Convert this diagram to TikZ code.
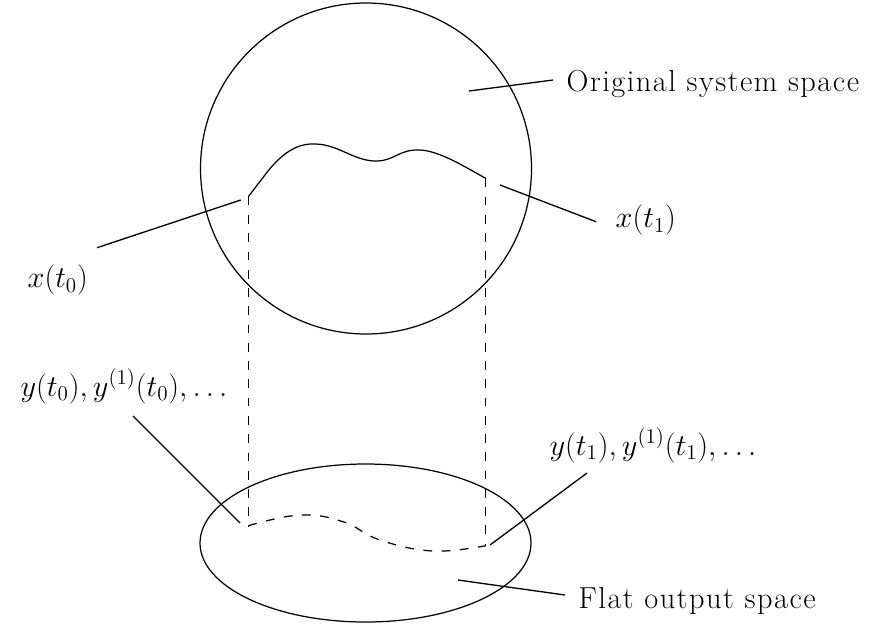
\documentclass[tikz,border=0pt]{standalone}
\usepackage{fontspec}
\newfontfamily\spacedfont{Latin Modern Roman}[LetterSpace=5]
\begin{document}
\begin{tikzpicture}[x=0.02cm, y=-0.02cm, line width=0.7pt]

% Styles for labels and lines
\tikzstyle{label} = [anchor=base west, inner sep=0pt, font=\LARGE]
\tikzstyle{textlabel} = [label, font=\LARGE\spacedfont]
\tikzstyle{leader} = [line width=0.75pt]
\tikzstyle{proj} = [dash pattern=on 5pt off 5.4pt]

\useasboundingbox (0,0) rectangle (878,630);

% The two spaces
\draw (366,168.5) circle [radius=165.5];
\draw (365.5,543) ellipse [x radius=165.5, y radius=79];

% End points of the trajectories
\coordinate (xa) at (248.3,196.7);
\coordinate (xb) at (485.7,178.3);
\coordinate (ya) at (248.3,525.7);
\coordinate (yb) at (485.7,545.7);

% Trajectory in the original space
\draw (xa) -- (268,171) .. controls (285,150) and (300,143) .. (316,144)
  .. controls (340,145) and (355,162) .. (378,161)
  .. controls (395,160) and (400,149) .. (420,150)
  .. controls (440,151) and (465,167) .. (xb);

% Trajectory in the flat output space
\draw[proj] plot[smooth, tension=0.7] coordinates {(248.3,525.7) (300,515) (343,521.7) (380,540) (433,551) (485.7,545.7)};

% Projections
\draw[proj] (xa) -- (ya);
\draw[proj] (xb) -- (yb);

% Labels
\node[textlabel] (orig) at (566,91) {Original system space};
\node[label] (xone) at (615,227.5) {$x(t_1)$};
\node[label] (xzero) at (27,287.5) {$x(t_0)$};
\node[label] (yzero) at (20,396) {$y(t_0), y^{(1)}(t_0), \ldots$};
\node[label] (yone) at (549,455) {$y(t_1), y^{(1)}(t_1), \ldots$};
\node[textlabel] (flat) at (578,608) {Flat output space};

% Leader ends
\coordinate (origin) at (469,91);
\coordinate (origout) at (553,80);
\coordinate (xonein) at (500,185);
\coordinate (xoneout) at (596,221.7);
\coordinate (xzeroin) at (240.7,200);
\coordinate (xzeroout) at (97,247.7);
\coordinate (yzeroin) at (240,523);
\coordinate (yzeroout) at (133,416);
\coordinate (yonein) at (490,545);
\coordinate (yoneout) at (587,473);
\coordinate (flatin) at (458,580);
\coordinate (flatout) at (565,595);

% Leader lines
\draw[leader] (origin) -- (origout);
\draw[leader] (xonein) -- (xoneout);
\draw[leader] (xzeroin) -- (xzeroout);
\draw[leader] (yzeroin) -- (yzeroout);
\draw[leader] (yonein) -- (yoneout);
\draw[leader] (flatin) -- (flatout);

\end{tikzpicture}
\end{document}
